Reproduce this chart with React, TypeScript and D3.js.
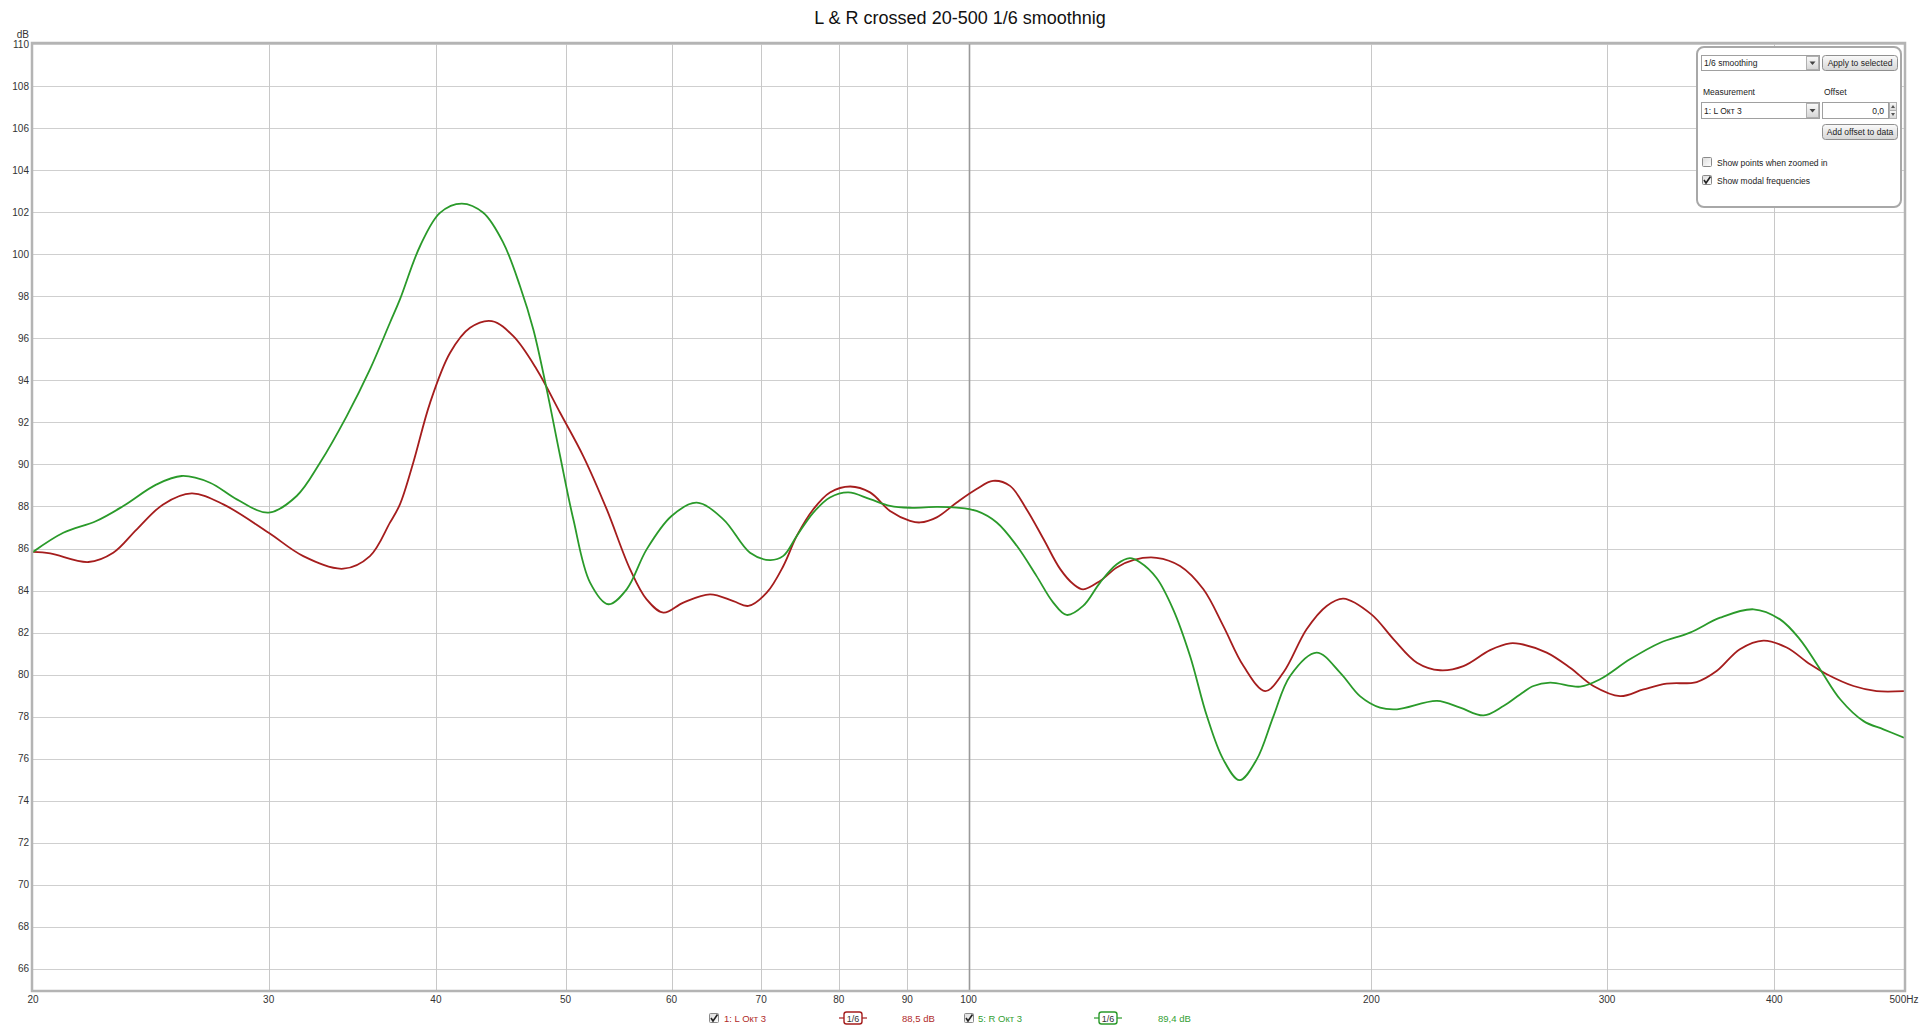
import React from 'react';
import * as d3 from 'd3';

const W = 1920;
const H = 1029;
const PL = 33, PT = 44, PR = 1904, PB = 990;

const title = 'L & R crossed 20-500 1/6 smoothnig';
const yTicks = [66, 68, 70, 72, 74, 76, 78, 80, 82, 84, 86, 88, 90, 92, 94, 96, 98, 100, 102, 104, 106, 108, 110];
const xTicks = [20, 30, 40, 50, 60, 70, 80, 90, 100, 200, 300, 400, 500];
const xTickLabels = ['20', '30', '40', '50', '60', '70', '80', '90', '100', '200', '300', '400', '500Hz'];

// L (red) measurement, 1/6 smoothing
const lFreq = [20, 20.6, 22.0, 22.96, 23.9, 25.02, 26.28, 27.75, 30, 31.84, 34.11, 35.71, 36.96, 37.6, 38.47, 39.6, 40.99, 42.42, 44.04, 45.7, 47.58, 49.53, 51.54, 53.67, 55.87, 57.48, 59.16, 61.23, 64.1, 66.73, 68.47, 70.67, 72.72, 74.42, 76.57, 78.79, 81.6, 84.42, 87.37, 90.43, 92.0, 94.68, 98.0, 101.4, 104.3, 107.4, 110.5, 113.8, 117.1, 119.8, 121.8, 125.4, 129.05, 132.9, 138.2, 143.9, 149.8, 155, 160.5, 166.6, 171.9, 178.9, 185.2, 190.6, 200, 207.8, 216.3, 225.1, 234.3, 245.3, 253.9, 258.3, 270.4, 281.5, 293, 306.8, 319.4, 332.4, 350, 362.2, 377, 392.6, 408.6, 425.4, 437.8, 458.4, 477, 500];
const lDb = [85.84, 85.77, 85.36, 85.8, 86.9, 88.1, 88.62, 88.1, 86.75, 85.64, 85.04, 85.64, 87.23, 88.1, 90.08, 92.93, 95.31, 96.5, 96.82, 96.1, 94.52, 92.46, 90.4, 87.86, 85.01, 83.58, 82.95, 83.43, 83.82, 83.5, 83.27, 83.9, 85.17, 86.6, 87.87, 88.67, 88.95, 88.67, 87.79, 87.32, 87.24, 87.48, 88.19, 88.83, 89.22, 88.98, 87.87, 86.44, 85.02, 84.3, 84.06, 84.46, 85.1, 85.46, 85.56, 85.17, 84.06, 82.32, 80.41, 79.22, 80.1, 82.16, 83.27, 83.62, 82.87, 81.68, 80.57, 80.21, 80.41, 81.17, 81.49, 81.46, 81.05, 80.33, 79.46, 78.98, 79.3, 79.57, 79.65, 80.17, 81.21, 81.62, 81.29, 80.49, 80.02, 79.46, 79.22, 79.22];

// R (green) measurement, 1/6 smoothing
const rFreq = [20, 21.07, 22.3, 23.36, 24.74, 25.83, 27.12, 28.4, 30, 31.48, 32.77, 34.31, 35.71, 36.96, 37.6, 38.92, 40.28, 41.82, 43.4, 44.92, 46.23, 47.3, 48.4, 49.53, 50.67, 52.15, 53.82, 55.54, 57.48, 60, 62.65, 65.59, 68.67, 71.07, 72.72, 74.42, 76.57, 78.79, 81.33, 84.42, 87.37, 90.43, 94.68, 98, 101.4, 104.98, 108.66, 112.4, 115.7, 118.4, 121.8, 125.4, 129.05, 132, 134.3, 138.2, 142.2, 146.4, 150.7, 155, 159.4, 164.2, 169, 173.9, 182, 189.5, 196.1, 203, 209, 223.9, 233, 242.6, 251, 258.3, 264.3, 272, 286.4, 296.4, 312, 328.7, 346, 364.4, 386, 404, 418, 432.9, 448, 466.4, 482.6, 500];
const rDb = [85.84, 86.75, 87.31, 88.02, 89.05, 89.45, 89.13, 88.34, 87.71, 88.5, 90.08, 92.3, 94.52, 96.74, 97.85, 100.38, 101.97, 102.41, 101.97, 100.54, 98.48, 96.42, 93.57, 90.4, 87.39, 84.38, 83.35, 84.06, 85.96, 87.55, 88.18, 87.39, 85.8, 85.45, 85.65, 86.6, 87.71, 88.43, 88.67, 88.35, 88.03, 87.94, 87.98, 87.95, 87.79, 87.24, 86.13, 84.7, 83.43, 82.84, 83.27, 84.38, 85.25, 85.54, 85.35, 84.6, 83.11, 80.89, 78.03, 75.97, 74.98, 75.97, 78.03, 79.94, 81.05, 80.1, 78.98, 78.43, 78.35, 78.75, 78.43, 78.06, 78.51, 79.06, 79.46, 79.62, 79.43, 79.78, 80.73, 81.52, 82.0, 82.71, 83.11, 82.63, 81.68, 80.25, 78.83, 77.79, 77.4, 77.0];

const seriesNames = ['1: L Окт 3', '5: R Окт 3'];
const seriesLevels = ['88,5 dB', '89,4 dB'];
const seriesColors = ['#a51d1d', '#2a9a2a'];
const seriesTextColors = ['#b02a2a', '#33a033'];

const FONT = '"Liberation Sans", Arial, sans-serif';

function Checkbox({ x, y, checked }: { x: number; y: number; checked: boolean }) {
  return (
    <g>
      <rect x={x + 0.5} y={y + 0.5} width={9} height={9} rx={1} fill="url(#cbGrad)" stroke="#8a8a8a" strokeWidth={1} />
      {checked && (
        <path d={`M${x + 2} ${y + 5} L${x + 4} ${y + 8} L${x + 8.5} ${y + 1.5}`} fill="none" stroke="#222" strokeWidth={1.6} />
      )}
    </g>
  );
}

function Button({ x, y, w, h, label }: { x: number; y: number; w: number; h: number; label: string }) {
  return (
    <g>
      <rect x={x + 0.5} y={y + 0.5} width={w} height={h} rx={3} fill="url(#btnGrad)" stroke="#8f8f8f" />
      <text x={x + w / 2 + 0.5} y={y + h / 2 + 3.5} textAnchor="middle" fontSize={8.5} fontFamily={FONT} fill="#222">{label}</text>
    </g>
  );
}

function Dropdown({ x, y, w, h, label }: { x: number; y: number; w: number; h: number; label: string }) {
  return (
    <g>
      <rect x={x + 0.5} y={y + 0.5} width={w} height={h} fill="#fff" stroke="#a0a0a0" />
      <rect x={x + w - 12.5} y={y + 1.5} width={12} height={h - 2} fill="url(#btnGrad)" stroke="#b0b0b0" />
      <path d={`M${x + w - 9.5} ${y + h / 2 - 1} L${x + w - 3.5} ${y + h / 2 - 1} L${x + w - 6.5} ${y + h / 2 + 2.5} Z`} fill="#444" />
      <text x={x + 3} y={y + h / 2 + 3.5} fontSize={8.5} fontFamily={FONT} fill="#222">{label}</text>
    </g>
  );
}

function SmoothBadge({ cx, cy, color }: { cx: number; cy: number; color: string }) {
  return (
    <g>
      <line x1={cx - 14} x2={cx + 14} y1={cy} y2={cy} stroke={color} strokeWidth={1.2} />
      <rect x={cx - 9} y={cy - 6} width={18} height={12} rx={2.5} fill="#fff" stroke={color} strokeWidth={1.4} />
      <text x={cx} y={cy + 3.5} textAnchor="middle" fontSize={9} fontFamily={FONT} fill="#333">1/6</text>
    </g>
  );
}

export default function App() {
  const x = d3.scaleLog().domain([20, 500]).range([PL, PR]);
  const y = d3.scaleLinear().domain([65, 110]).range([PB, PT]);

  const line = d3
    .line<[number, number]>()
    .x((d) => x(d[0]))
    .y((d) => y(d[1]))
    .curve(d3.curveCatmullRom.alpha(0.5));

  const lData: [number, number][] = lFreq.map((f, i) => [f, lDb[i]]);
  const rData: [number, number][] = rFreq.map((f, i) => [f, rDb[i]]);

  const legendY = 1018;

  return (
    <svg width={W} height={H} style={{ position: 'fixed', left: 0, top: 0, background: '#fff' }} xmlns="http://www.w3.org/2000/svg">
      <defs>
        <clipPath id="plotClip">
          <rect x={PL} y={PT} width={PR - PL} height={PB - PT} />
        </clipPath>
        <linearGradient id="btnGrad" x1="0" y1="0" x2="0" y2="1">
          <stop offset="0" stopColor="#fafafa" />
          <stop offset="1" stopColor="#d6d6d6" />
        </linearGradient>
        <linearGradient id="cbGrad" x1="0" y1="0" x2="1" y2="1">
          <stop offset="0" stopColor="#dcdcdc" />
          <stop offset="1" stopColor="#ffffff" />
        </linearGradient>
      </defs>
      <rect x={0} y={0} width={W} height={H} fill="#fff" />

      <text x={960} y={24} textAnchor="middle" fontSize={18} fontFamily={FONT} fill="#111">{title}</text>

      {/* horizontal grid */}
      {yTicks.map((t) => (
        <line key={'h' + t} x1={PL} x2={PR} y1={Math.round(y(t)) + 0.5} y2={Math.round(y(t)) + 0.5} stroke="#cfcfcf" strokeWidth={1} />
      ))}
      {/* vertical grid */}
      {xTicks.slice(1, -1).map((t) => (
        <line
          key={'v' + t}
          x1={Math.round(x(t)) + 0.5}
          x2={Math.round(x(t)) + 0.5}
          y1={PT}
          y2={PB}
          stroke={t === 100 ? '#9a9a9a' : '#c8c8c8'}
          strokeWidth={t === 100 ? 1.6 : 1}
        />
      ))}

      {/* curves */}
      <g clipPath="url(#plotClip)">
        <path d={line(lData) || ''} fill="none" stroke={seriesColors[0]} strokeWidth={1.8} />
        <path d={line(rData) || ''} fill="none" stroke={seriesColors[1]} strokeWidth={1.8} />
      </g>

      {/* plot border */}
      <rect x={PL - 1} y={PT - 1} width={PR - PL + 2} height={PB - PT + 2} fill="none" stroke="#b4b4b4" strokeWidth={2.5} />

      {/* y labels */}
      <text x={29} y={PT - 6} textAnchor="end" fontSize={10} fontFamily={FONT} fill="#333">dB</text>
      {yTicks.map((t) => (
        <text key={'yl' + t} x={29} y={y(t) + 3.5} textAnchor="end" fontSize={10} fontFamily={FONT} fill="#333">{t}</text>
      ))}
      {/* x labels */}
      {xTicks.map((t, i) => (
        <text key={'xl' + t} x={x(t)} y={1003} textAnchor="middle" fontSize={10} fontFamily={FONT} fill="#333">
          {xTickLabels[i]}
        </text>
      ))}

      {/* control panel */}
      <g>
        <rect x={1697} y={47} width={204} height={160} rx={7} fill="#fff" stroke="#a8a8a8" strokeWidth={2} />
        <Dropdown x={1701} y={55} w={118} h={15} label="1/6 smoothing" />
        <Button x={1822} y={55} w={75} h={15} label="Apply to selected" />
        <text x={1703} y={95} fontSize={8.5} fontFamily={FONT} fill="#222">Measurement</text>
        <text x={1824} y={95} fontSize={8.5} fontFamily={FONT} fill="#222">Offset</text>
        <Dropdown x={1701} y={102} w={118} h={16} label="1: L Окт 3" />
        <rect x={1822.5} y={102.5} width={66} height={16} fill="#fff" stroke="#a0a0a0" />
        <text x={1884} y={113.5} textAnchor="end" fontSize={8.5} fontFamily={FONT} fill="#222">0,0</text>
        <rect x={1889.5} y={102.5} width={7} height={8} fill="url(#btnGrad)" stroke="#b0b0b0" />
        <rect x={1889.5} y={110.5} width={7} height={8} fill="url(#btnGrad)" stroke="#b0b0b0" />
        <path d="M1891 108 L1895 108 L1893 105 Z" fill="#555" />
        <path d="M1891 113 L1895 113 L1893 116 Z" fill="#555" />
        <Button x={1822} y={124} w={75} h={15} label="Add offset to data" />
        <Checkbox x={1702} y={157} checked={false} />
        <text x={1717} y={166} fontSize={8.5} fontFamily={FONT} fill="#222">Show points when zoomed in</text>
        <Checkbox x={1702} y={175} checked={true} />
        <text x={1717} y={183.5} fontSize={8.5} fontFamily={FONT} fill="#222">Show modal frequencies</text>
      </g>

      {/* legend */}
      <g>
        <Checkbox x={709} y={legendY - 5} checked={true} />
        <text x={724} y={legendY + 3.5} fontSize={9.5} fontFamily={FONT} fill={seriesTextColors[0]}>{seriesNames[0]}</text>
        <SmoothBadge cx={853} cy={legendY} color={seriesColors[0]} />
        <text x={902} y={legendY + 3.5} fontSize={9.5} fontFamily={FONT} fill={seriesTextColors[0]}>{seriesLevels[0]}</text>
        <Checkbox x={964} y={legendY - 5} checked={true} />
        <text x={978} y={legendY + 3.5} fontSize={9.5} fontFamily={FONT} fill={seriesTextColors[1]}>{seriesNames[1]}</text>
        <SmoothBadge cx={1108} cy={legendY} color={seriesColors[1]} />
        <text x={1158} y={legendY + 3.5} fontSize={9.5} fontFamily={FONT} fill={seriesTextColors[1]}>{seriesLevels[1]}</text>
      </g>
    </svg>
  );
}
